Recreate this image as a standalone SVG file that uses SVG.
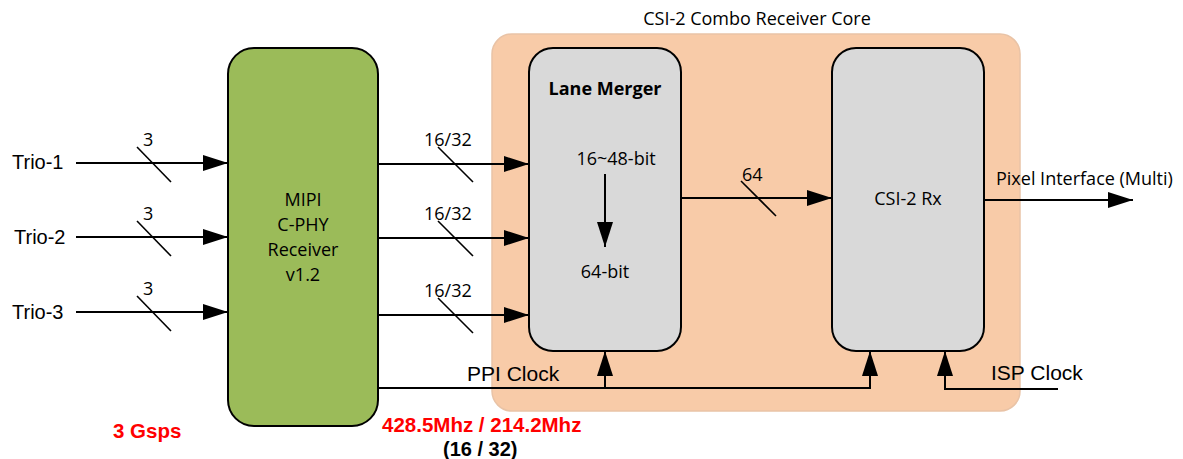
<svg xmlns="http://www.w3.org/2000/svg" width="1183" height="459" viewBox="0 0 1183 459">
<defs>
<marker id="ah" markerUnits="userSpaceOnUse" markerWidth="26" markerHeight="18" viewBox="0 0 26 18" refX="25" refY="9" orient="auto">
<path d="M0,1 L25,9 L0,17 Z" fill="#000"/>
</marker>
</defs>
<style>
.ln{stroke:#000;stroke-width:2;fill:none}
.sl{stroke:#000;stroke-width:1.6;fill:none}
.ar{font-family:"Liberation Sans",Arial,sans-serif;font-size:20px;fill:#000}
.ck{font-family:"Liberation Sans",Arial,sans-serif;font-size:21px;fill:#000}
.cb{font-family:"Open Sans","Liberation Sans",sans-serif;font-size:18px;fill:#000}
.red{font-family:"Liberation Sans",Arial,sans-serif;font-size:20.5px;font-weight:bold;fill:#FF0000}
</style>
<rect width="1183" height="459" fill="#fff"/>
<g id="core">
<rect x="492" y="34" width="528" height="377" rx="20" fill="#F8CBA8" stroke="#E9C3A6" stroke-width="1.5"/>
<text class="cb" x="757" y="25" text-anchor="middle">CSI-2 Combo Receiver Core</text>
</g>
<g id="phy">
<rect x="228" y="48" width="150" height="378" rx="26" fill="#9BBB59" stroke="#000" stroke-width="2"/>
<text class="cb" x="303" y="206" text-anchor="middle">MIPI</text>
<text class="cb" x="303" y="231" text-anchor="middle">C-PHY</text>
<text class="cb" x="303" y="256" text-anchor="middle">Receiver</text>
<text class="cb" x="303" y="281" text-anchor="middle">v1.2</text>
</g>
<g id="lanemerger">
<rect x="529" y="48" width="152" height="303" rx="24" fill="#D9D9D9" stroke="#000" stroke-width="2"/>
<text class="cb" x="605" y="95" text-anchor="middle" font-weight="bold">Lane Merger</text>
<text class="cb" x="616" y="165" text-anchor="middle">16~48-bit</text>
<text class="cb" x="605" y="278" text-anchor="middle">64-bit</text>
</g>
<g id="csi2rx">
<rect x="832" y="48" width="152" height="303" rx="24" fill="#D9D9D9" stroke="#000" stroke-width="2"/>
<text class="cb" x="908" y="205" text-anchor="middle">CSI-2 Rx</text>
</g>
<g id="connectors">
<line class="ln" x1="76" y1="163" x2="228" y2="163" marker-end="url(#ah)"/>
<line class="ln" x1="76" y1="237" x2="228" y2="237" marker-end="url(#ah)"/>
<line class="ln" x1="76" y1="312" x2="228" y2="312" marker-end="url(#ah)"/>
<line class="sl" x1="137" y1="147" x2="171" y2="182"/>
<line class="sl" x1="137" y1="221" x2="171" y2="256"/>
<line class="sl" x1="137" y1="296" x2="171" y2="331"/>
<line class="ln" x1="378" y1="164" x2="529" y2="164" marker-end="url(#ah)"/>
<line class="ln" x1="378" y1="238" x2="529" y2="238" marker-end="url(#ah)"/>
<line class="ln" x1="378" y1="315" x2="529" y2="315" marker-end="url(#ah)"/>
<line class="sl" x1="438" y1="147" x2="473" y2="182"/>
<line class="sl" x1="438" y1="221" x2="473" y2="256"/>
<line class="sl" x1="438" y1="298" x2="473" y2="333"/>
<line class="ln" x1="605" y1="174" x2="605" y2="247" marker-end="url(#ah)"/>
<line class="ln" x1="681" y1="198" x2="832" y2="198" marker-end="url(#ah)"/>
<line class="sl" x1="741" y1="181" x2="776" y2="216"/>
<line class="ln" x1="984" y1="200" x2="1133" y2="200" marker-end="url(#ah)"/>
<polyline class="ln" points="378,388 870,388 870,351" marker-end="url(#ah)"/>
<line class="ln" x1="605" y1="388" x2="605" y2="351" marker-end="url(#ah)"/>
<polyline class="ln" points="1058,389 945,389 945,351" marker-end="url(#ah)"/>
</g>
<g id="labels">
<text class="ar" x="12" y="169">Trio-1</text>
<text class="ar" x="14" y="244">Trio-2</text>
<text class="ar" x="12" y="319">Trio-3</text>
<text class="cb" x="143" y="146">3</text>
<text class="cb" x="143" y="220">3</text>
<text class="cb" x="143" y="295">3</text>
<text class="cb" x="424" y="146">16/32</text>
<text class="cb" x="424" y="220">16/32</text>
<text class="cb" x="424" y="297">16/32</text>
<text class="cb" x="742" y="181">64</text>
<text class="cb" x="996" y="185">Pixel Interface (Multi)</text>
<text class="ck" x="467" y="381">PPI Clock</text>
<text class="ck" x="991" y="380">ISP Clock</text>
<text class="red" x="113" y="438">3 Gsps</text>
<text class="red" x="382" y="432">428.5Mhz / 214.2Mhz</text>
<text class="ar" x="443" y="456" font-weight="bold">(16 / 32)</text>
</g>
</svg>
